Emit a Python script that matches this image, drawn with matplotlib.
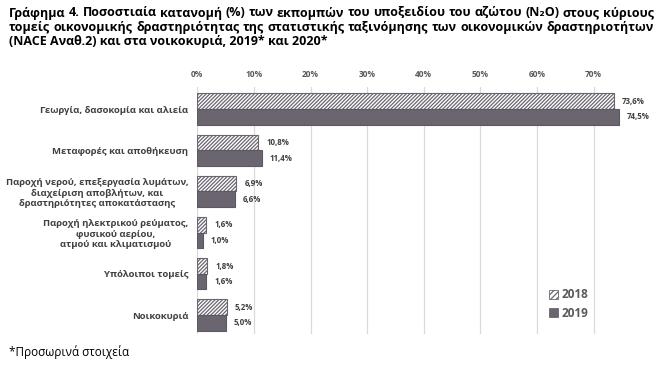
import matplotlib
matplotlib.use('Agg')
import matplotlib.pyplot as plt
from matplotlib.patches import Patch
import numpy as np

# data
categories = [
    'Γεωργία, δασοκομία και αλιεία',
    'Μεταφορές και αποθήκευση',
    'Παροχή νερού, επεξεργασία λυμάτων,\nδιαχείριση αποβλήτων, και\nδραστηριότητες αποκατάστασης',
    'Παροχή ηλεκτρικού ρεύματος,\nφυσικού αερίου,\nατμού και κλιματισμού',
    'Υπόλοιποι τομείς',
    'Νοικοκυριά',
]
values_2018 = [73.6, 10.8, 6.9, 1.6, 1.8, 5.2]
values_2019 = [74.5, 11.4, 6.6, 1.0, 1.6, 5.0]
series_names = ['2018', '2019']
x_ticks = [0, 10, 20, 30, 40, 50, 60, 70]

title_lines = [
    'Γράφημα 4. Ποσοστιαία κατανομή (%) των εκπομπών του υποξειδίου του αζώτου (N₂O) στους κύριους',
    'τομείς οικονομικής δραστηριότητας της στατιστικής ταξινόμησης των οικονομικών δραστηριοτήτων',
    '(NACE Αναθ.2) και στα νοικοκυριά, 2019* και 2020*',
]
footnote = '*Προσωρινά στοιχεία'

FONT = ['Open Sans', 'DejaVu Sans']
plt.rcParams['font.family'] = FONT
plt.rcParams['hatch.linewidth'] = 0.9

DARK = '#6b6570'
TXT = '#404040'
GRAY = '#595959'
HATCH = '/////////'

W, H = 669, 366
fig = plt.figure(figsize=(W / 100, H / 100), dpi=100)
ax = fig.add_axes([197.3 / W, 1 - 334 / H, 452.8 / W, 247 / H])

y = np.arange(len(categories))
h = 0.38
b1 = ax.barh(y - h / 2, values_2018, height=h, color='white',
             edgecolor=DARK, hatch=HATCH, linewidth=0.8, zorder=2)
b2 = ax.barh(y + h / 2, values_2019, height=h, color=DARK,
             edgecolor='#5e5864', linewidth=0.8, zorder=2)

for bars, vals in ((b1, values_2018), (b2, values_2019)):
    for bar, v in zip(bars, vals):
        ax.annotate(f'{v:.1f}%'.replace('.', ','),
                    (bar.get_width(), bar.get_y() + bar.get_height() / 2),
                    xytext=(8, 0), textcoords='offset pixels',
                    ha='left', va='center', fontsize=5.7,
                    fontweight='bold', color=TXT)

ax.set_xlim(0, 80)
ax.set_ylim(5.46, -0.534)
ax.xaxis.tick_top()
ax.set_xticks(x_ticks)
ax.set_xticklabels([f'{t}%' for t in x_ticks], fontsize=6, fontweight='bold',
                   color=GRAY)
ax.set_yticks(y)
ax.set_yticklabels(categories, fontsize=6.8, fontweight='bold', color=TXT,
                   multialignment='center', linespacing=1.18)
ax.tick_params(axis='both', length=0)
ax.tick_params(axis='x', pad=6)
ax.tick_params(axis='y', pad=6.5)
ax.grid(axis='x', color='#d9d9d9', linewidth=0.9)
ax.set_axisbelow(True)
for s in ax.spines.values():
    s.set_visible(False)

handles = [Patch(facecolor='white', edgecolor=DARK, hatch='//////', linewidth=0.6),
           Patch(facecolor=DARK, edgecolor=DARK, linewidth=0.6)]
fig.legend(handles, series_names, loc='center left',
           bbox_to_anchor=(538 / W, 1 - 304 / H), frameon=False,
           prop={'size': 8.5, 'weight': 'bold', 'family': FONT},
           labelcolor=GRAY, handlelength=0.8, handleheight=0.8,
           handletextpad=0.3, labelspacing=0.45)


def put_line(text, ypix, x0, x1, justify, **kw):
    renderer = fig.canvas.get_renderer()
    words = text.split(' ')
    yf = 1 - ypix / H
    if not justify:
        fig.text(x0 / W, yf, text, va='center', ha='left', **kw)
        return
    arts = [fig.text(0, yf, w, va='center', ha='left', **kw) for w in words]
    widths = [a.get_window_extent(renderer).width for a in arts]
    gap = ((x1 - x0) - sum(widths)) / (len(words) - 1)
    x = x0
    for a, wd in zip(arts, widths):
        a.set_x(x / W)
        x += wd + gap


for i, line in enumerate(title_lines):
    put_line(line, 13 + 14.5 * i, 9, 654, i < 2,
             fontsize=9.0, fontweight='bold', color='black')

fig.text(9 / W, 1 - 352 / H, footnote, va='center', ha='left',
         fontsize=8.5, color='black')

fig.savefig('out.png', dpi=100)
